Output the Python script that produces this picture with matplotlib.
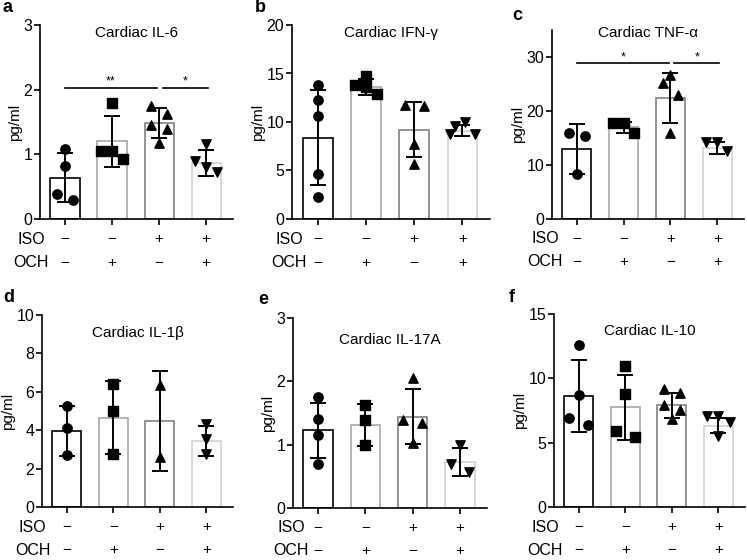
import numpy as np
import matplotlib
matplotlib.use("Agg")
import matplotlib.pyplot as plt

plt.rcParams['font.family'] = ['Liberation Sans', 'DejaVu Sans']

# group settings
iso = ["\u2212", "\u2212", "+", "+"]
och = ["\u2212", "+", "\u2212", "+"]
edge_colors = ["#000000", "#a8a8a8", "#808080", "#d2d2d2"]
markers = ["o", "s", "^", "v"]

# Cardiac IL-6
il6_mean = [0.64, 1.20, 1.48, 0.86]
il6_sd = [0.38, 0.39, 0.23, 0.20]
il6_pts = [[1.08, 0.82, 0.38, 0.30], [1.79, 1.05, 1.05, 0.93],
           [1.75, 1.63, 1.46, 1.39, 1.17], [1.16, 0.90, 0.80, 0.72]]
il6_off = [[0, 0, -0.17, 0.17], [0, -0.23, 0, 0.23],
           [-0.17, 0.17, -0.17, 0.17, 0], [0, -0.23, 0, 0.23]]

# Cardiac IFN-g
ifn_mean = [8.38, 13.6, 9.2, 9.1]
ifn_sd = [4.9, 0.8, 2.85, 0.55]
ifn_pts = [[13.8, 12.3, 10.6, 4.6, 2.3], [13.8, 14.7, 13.6, 12.85],
           [11.75, 11.65, 7.7, 5.7], [10.0, 9.6, 8.8, 8.8]]
ifn_off = [[0, 0, 0, 0, 0], [-0.22, 0, 0, 0.22],
           [-0.2, 0.2, 0, 0], [0.05, -0.15, -0.25, 0.25]]

# Cardiac TNF-a
tnf_mean = [12.96, 17.0, 22.4, 13.2]
tnf_sd = [4.6, 1.0, 4.65, 1.1]
tnf_pts = [[16.0, 15.4, 8.3], [17.8, 17.8, 16.0],
           [25.1, 26.7, 23.0, 15.9], [14.3, 14.3, 12.5]]
tnf_off = [[-0.17, 0.17, 0], [-0.23, 0, 0.23],
           [-0.17, 0, 0.17, 0], [-0.25, 0, 0.2]]

# Cardiac IL-1b
il1_mean = [3.98, 4.65, 4.5, 3.45]
il1_sd = [1.3, 1.9, 2.6, 0.78]
il1_pts = [[5.28, 4.14, 2.71], [6.4, 5.0, 2.75], [6.33, 2.6], [4.32, 3.53, 2.74]]
il1_off = [[0, 0, 0], [0, 0, 0], [0, 0], [0, 0, 0]]

# Cardiac IL-17A
il17_mean = [1.23, 1.31, 1.44, 0.72]
il17_sd = [0.435, 0.33, 0.435, 0.22]
il17_pts = [[1.75, 1.40, 1.16, 0.69], [1.62, 1.39, 0.99],
            [2.06, 1.39, 1.35, 1.03], [1.0, 0.69, 0.57]]
il17_off = [[0, 0, 0, 0], [0, 0, 0], [0, -0.2, 0.2, 0], [0, -0.2, 0.2]]

# Cardiac IL-10
il10_mean = [8.6, 7.75, 7.9, 6.3]
il10_sd = [2.8, 2.53, 0.96, 0.58]
il10_pts = [[12.6, 8.73, 6.92, 6.4], [10.95, 8.8, 5.93, 5.46],
            [9.2, 8.86, 7.94, 7.55, 6.85], [7.1, 7.1, 6.58, 5.54]]
il10_off = [[0, 0, -0.2, 0.2], [0, 0, -0.2, 0.2],
            [-0.17, 0.17, -0.17, 0.17, 0], [-0.25, 0, 0.25, 0]]

panels = [
    ("a", "Cardiac IL-6", il6_mean, il6_sd, il6_pts, il6_off, 3, [0, 1, 2, 3]),
    ("b", "Cardiac IFN-\u03b3", ifn_mean, ifn_sd, ifn_pts, ifn_off, 20, [0, 5, 10, 15, 20]),
    ("c", "Cardiac TNF-\u03b1", tnf_mean, tnf_sd, tnf_pts, tnf_off, 35, [0, 10, 20, 30]),
    ("d", "Cardiac IL-1\u03b2", il1_mean, il1_sd, il1_pts, il1_off, 10, [0, 2, 4, 6, 8, 10]),
    ("e", "Cardiac IL-17A", il17_mean, il17_sd, il17_pts, il17_off, 3, [0, 1, 2, 3]),
    ("f", "Cardiac IL-10", il10_mean, il10_sd, il10_pts, il10_off, 15, [0, 5, 10, 15]),
]

# significance bars: (start group, end group, height, label)
sig_a = [(0, 2, 2.03, "**"), (2, 3, 2.03, "*")]
sig_c = [(0, 2, 28.8, "*"), (2, 3, 28.8, "*")]

W, H = 747, 560
fig = plt.figure(figsize=(W / 100, H / 100), dpi=100)

# axes boxes in pixels: left, top, right, bottom
boxes = [(40, 25, 233, 219), (292, 25, 490, 219), (552, 30, 744, 219),
         (42, 315, 233, 507), (293, 318, 487, 508), (554, 314, 745, 507)]
title_y = [0.96, 0.96, 0.985, 0.905, 0.885, 0.91]
row_x = [-0.047, -0.015, -0.036, -0.05, -0.01, -0.047]
letter_pos = [(3, 8), (255, 8), (512, 15), (3, 298), (258, 300), (509, 297)]

axes = []
for i, (letter, title, mean, sd, pts, off, ymax, yt) in enumerate(panels):
    l, t, r, b = boxes[i]
    ax = fig.add_axes([l / W, 1 - b / H, (r - l) / W, (b - t) / H])
    axes.append(ax)
    x = np.arange(4)
    ax.bar(x, mean, width=0.62, color="white", edgecolor=edge_colors,
           linewidth=1.2, zorder=1)
    for g in range(4):
        ax.errorbar(g, mean[g], yerr=sd[g], color="black", capsize=6,
                    elinewidth=1.4, capthick=1.4, zorder=3)
        ax.scatter(g + np.array(off[g]), pts[g], marker=markers[g], s=45,
                   color="black", zorder=4, clip_on=False)
    ax.set_xlim(-0.53, 3.57)
    ax.set_ylim(0, ymax)
    ax.set_yticks(yt)
    ax.set_xticks(x)
    ax.set_xticklabels([])
    ax.spines["top"].set_visible(False)
    ax.spines["right"].set_visible(False)
    for s in ["left", "bottom"]:
        ax.spines[s].set_linewidth(1.2)
    ax.tick_params(direction="out", length=4.5, width=1.2, labelsize=11.5, pad=1)
    ax.set_ylabel("pg/ml", fontsize=11, labelpad=1)
    ax.text(0.5, title_y[i], title, transform=ax.transAxes, ha="center",
            va="center", fontsize=11)
    tr = ax.get_xaxis_transform()
    for g in range(4):
        ax.text(g, -0.105, iso[g], transform=tr, ha="center", va="center", fontsize=11)
        ax.text(g, -0.225, och[g], transform=tr, ha="center", va="center", fontsize=11)
    ax.text(row_x[i], -0.105, "ISO", transform=ax.transAxes, ha="center",
            va="center", fontsize=11.5)
    ax.text(row_x[i], -0.225, "OCH", transform=ax.transAxes, ha="center",
            va="center", fontsize=11.5)
    lx, ly = letter_pos[i]
    fig.text(lx / W, 1 - ly / H, letter, fontsize=13, fontweight="bold",
             ha="left", va="center")

for ax, sig in [(axes[0], sig_a), (axes[2], sig_c)]:
    for k, (g0, g1, y, lab) in enumerate(sig):
        x0 = g0 + (0.08 if k == 1 else 0)
        x1 = g1 + (0.04 if k == 1 else -0.04)
        ax.plot([x0, x1], [y, y], color="black", lw=1.2, zorder=5)
        ax.text((x0 + x1) / 2, y, lab, ha="center", va="bottom", fontsize=9)

plt.savefig("out.png", dpi=100)
